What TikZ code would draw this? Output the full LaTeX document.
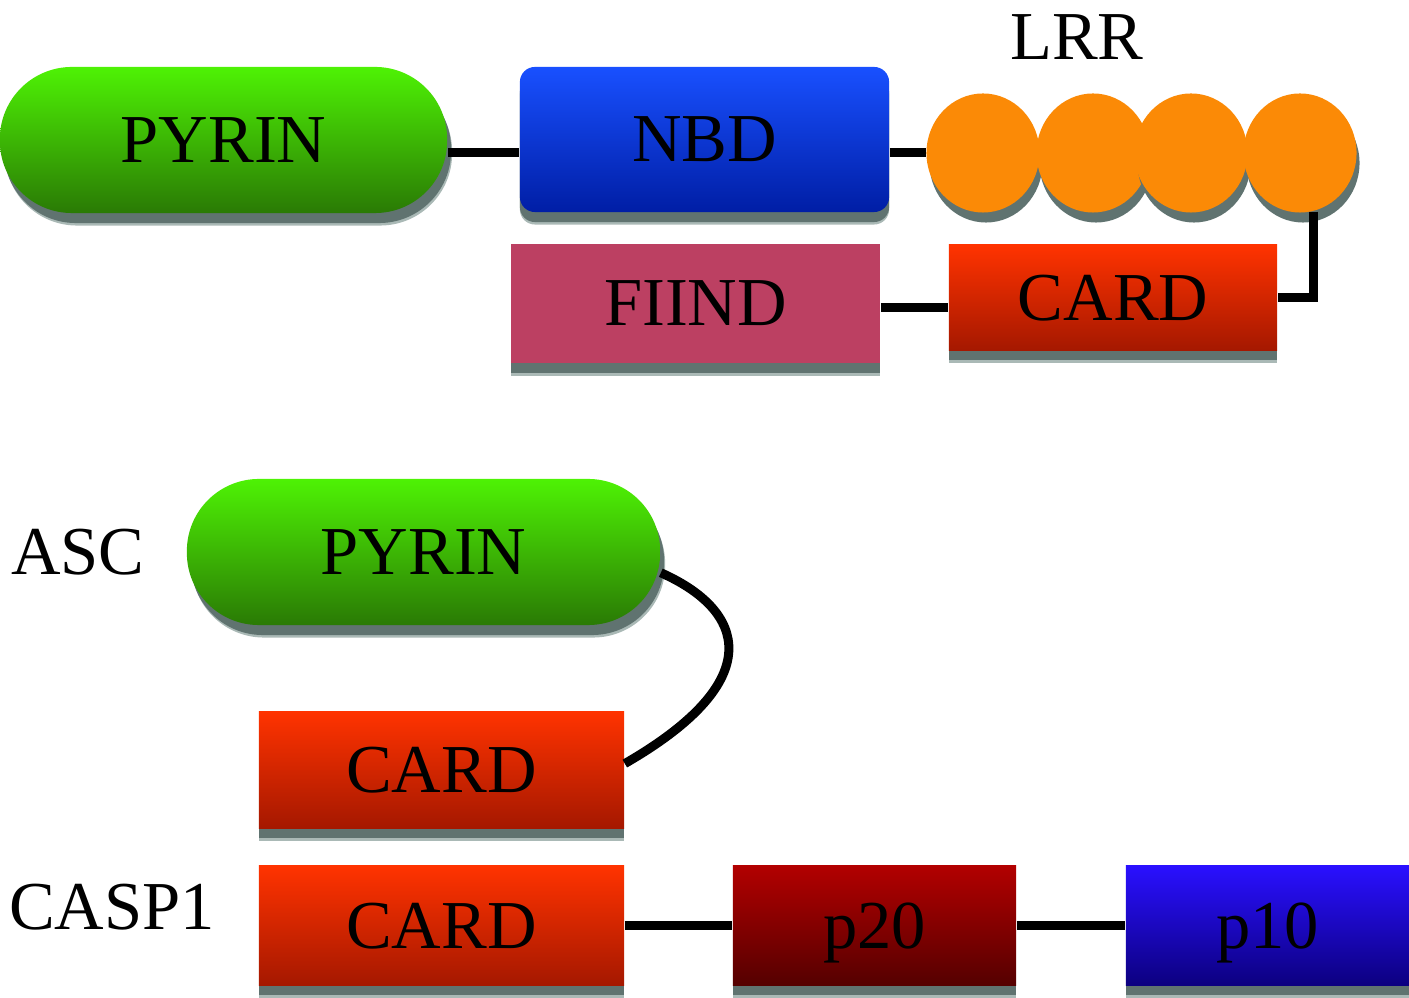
\documentclass[tikz,border=0pt]{standalone}
\usepackage{fontspec}
\setmainfont{Liberation Serif}
\usetikzlibrary{shapes.geometric,shadows}
\definecolor{grntop}{RGB}{78,242,5}
\definecolor{grnbot}{RGB}{42,122,5}
\definecolor{blutop}{RGB}{25,80,255}
\definecolor{blubot}{RGB}{0,30,165}
\definecolor{cardtop}{RGB}{255,51,0}
\definecolor{cardbot}{RGB}{165,24,0}
\definecolor{ptwtop}{RGB}{178,0,0}
\definecolor{ptwbot}{RGB}{85,0,0}
\definecolor{ptentop}{RGB}{42,16,255}
\definecolor{ptenbot}{RGB}{12,0,128}
\definecolor{fiindc}{RGB}{188,64,98}
\definecolor{lrrc}{RGB}{251,138,6}
\definecolor{shdark}{RGB}{96,115,112}
\definecolor{shlight}{RGB}{170,185,182}
\tikzset{
  dom/.style={inner sep=0pt, text depth=0pt, font=\fontsize{19.5}{23}\selectfont},
  boxdom/.style={dom, rectangle,
    general shadow={shadow xshift=0cm, shadow yshift=-0.125cm, fill=shlight},
    general shadow={shadow xshift=0cm, shadow yshift=-0.1cm, fill=shdark}},
  pill/.style={dom, rectangle, rounded corners=0.72cm, top color=grntop, bottom color=grnbot,
    general shadow={shadow xshift=0.05cm, shadow yshift=-0.125cm, fill=shlight},
    general shadow={shadow xshift=0.04cm, shadow yshift=-0.1cm, fill=shdark}},
  carddom/.style={boxdom, top color=cardtop, bottom color=cardbot},
  lrrdom/.style={ellipse, inner sep=0pt, minimum width=1.13cm, minimum height=1.19cm, fill=lrrc,
    general shadow={shadow xshift=0.03cm, shadow yshift=-0.1cm, fill=shdark}},
  lbl/.style={inner sep=0pt, font=\fontsize{19.5}{23}\selectfont},
  conn/.style={line width=0.09cm, black},
}
\begin{document}
\begin{tikzpicture}[x=0.01cm, y=-0.01cm]
\useasboundingbox (0,0) rectangle (1409,998);
% top row
\node[pill, minimum width=4.47cm, minimum height=1.46cm] (pyrin1) at (223.5,140) {PYRIN};
\node[boxdom, rounded corners=0.15cm, top color=blutop, bottom color=blubot,
      minimum width=3.69cm, minimum height=1.45cm] (nbd) at (704.5,139.5) {NBD};
\node[lrrdom] (lrr1) at (983,153) {};
\node[lrrdom] (lrr2) at (1093,153) {};
\node[lrrdom] (lrr3) at (1191,153) {};
\node[lrrdom] (lrr4) at (1300,153) {};
\node[lbl] (lrrlbl) at (1077,37) {LRR};
\node[boxdom, fill=fiindc, minimum width=3.69cm, minimum height=1.19cm] (fiind) at (695.5,303.5) {FIIND};
\node[carddom, minimum width=3.28cm, minimum height=1.05cm] (card1) at (1113,297.5) {CARD};
\coordinate (lineA) at (900,153);
\coordinate (lineB) at (915,308);
\draw[conn] (pyrin1.east |- lineA) -- (nbd.west |- lineA);
\draw[conn] (nbd.east |- lineA) -- (lrr1.west);
\draw[conn] (fiind.east |- lineB) -- (card1.west |- lineB);
\draw[conn] (lrr4.-77) |- (card1.east);
% ASC
\node[lbl] (asc) at (78,552) {ASC};
\node[pill, minimum width=4.73cm, minimum height=1.46cm] (pyrin2) at (423.5,552) {PYRIN};
\node[carddom, minimum width=3.65cm, minimum height=1.16cm] (card2) at (441.5,770) {CARD};
\draw[conn] (pyrin2.-5.6) .. controls (745,610) and (770,680) .. (card2.2);
% CASP1
\node[lbl] (casp) at (112,907) {CASP1};
\node[carddom, minimum width=3.65cm, minimum height=1.19cm] (card3) at (441.5,925.5) {CARD};
\node[boxdom, top color=ptwtop, bottom color=ptwbot, minimum width=2.83cm, minimum height=1.19cm] (p20) at (874.5,925.5) {p20};
\node[boxdom, top color=ptentop, bottom color=ptenbot, minimum width=2.83cm, minimum height=1.19cm] (p10) at (1267.5,925.5) {p10};
\draw[conn] (card3.east) -- (p20.west);
\draw[conn] (p20.east) -- (p10.west);
\end{tikzpicture}
\end{document}
